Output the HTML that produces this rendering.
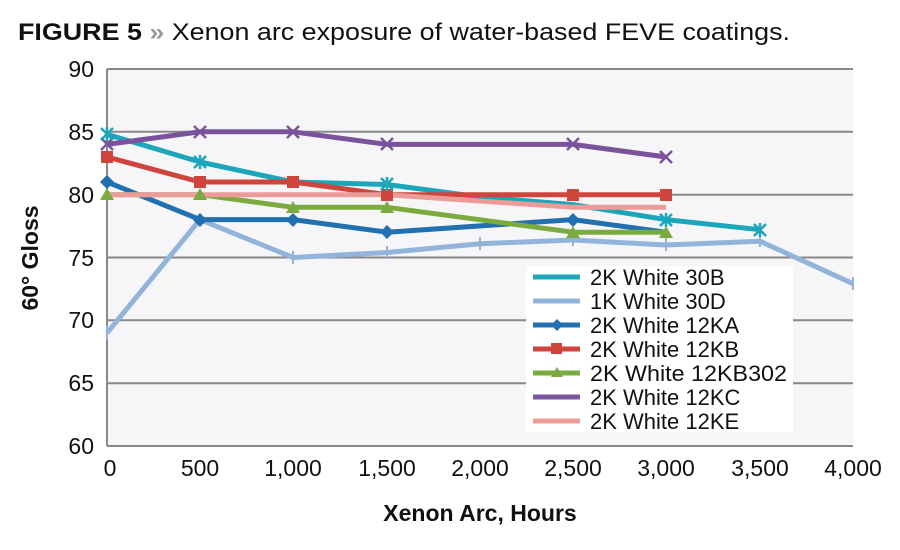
<!DOCTYPE html>
<html><head><meta charset="utf-8"><style>body{margin:0;background:#fff}svg{display:block}</style></head><body>
<svg width="900" height="550" xmlns="http://www.w3.org/2000/svg" font-family="Liberation Sans, sans-serif">
<text x="18" y="40" font-size="24" fill="#111" textLength="772" lengthAdjust="spacingAndGlyphs"><tspan font-weight="bold">FIGURE 5</tspan><tspan fill="#999" font-weight="bold"> »</tspan><tspan> Xenon arc exposure of water-based FEVE coatings.</tspan></text>
<rect x="107" y="69" width="746" height="377" fill="#f6f6f8"/>
<g stroke="#888" stroke-width="2">
<line x1="107" y1="69" x2="853" y2="69"/><line x1="107" y1="131.8" x2="853" y2="131.8"/><line x1="107" y1="194.7" x2="853" y2="194.7"/><line x1="107" y1="257.5" x2="853" y2="257.5"/><line x1="107" y1="320.3" x2="853" y2="320.3"/><line x1="107" y1="383.2" x2="853" y2="383.2"/><line x1="107" y1="446" x2="853" y2="446"/>
<line x1="107" y1="69" x2="107" y2="446"/>
</g>
<g font-size="23" fill="#111" text-anchor="end">
<text x="94" y="77">90</text><text x="94" y="140">85</text><text x="94" y="203">80</text><text x="94" y="266">75</text><text x="94" y="328">70</text><text x="94" y="391">65</text><text x="94" y="454">60</text></g>
<g font-size="23" fill="#111" text-anchor="middle">
<text x="110" y="476">0</text><text x="200" y="476">500</text><text x="293" y="476">1,000</text><text x="387" y="476">1,500</text><text x="480" y="476">2,000</text><text x="573" y="476">2,500</text><text x="666" y="476">3,000</text><text x="760" y="476">3,500</text><text x="853" y="476">4,000</text></g>
<text x="480" y="521" font-size="23" font-weight="bold" text-anchor="middle" fill="#111">Xenon Arc, Hours</text>
<text transform="translate(38,258) rotate(-90)" font-size="23" font-weight="bold" text-anchor="middle" fill="#111">60° Gloss</text>
<g fill="none" stroke-width="5" stroke-linejoin="round">
<polyline stroke="#93b4da" points="107,333 200,219.6 293,257.5 387,252.5 480,243.7 573,240 666,245 760,241.2 853,283.7"/>
<polyline stroke="#1ba7b9" points="107,134.3 200,162 293,182 387,184.5 480,197 573,204.6 666,219.6 760,229.7"/>
<polyline stroke="#2270b0" points="107,182 200,219.6 293,219.6 387,232.2 573,219.6 666,232.2"/>
<polyline stroke="#7bab3e" points="107,194.7 200,194.7 293,207.3 387,207.3 573,232.2 666,232.2"/>
<polyline stroke="#d0443e" points="107,157 200,182 293,182 387,194.7 573,194.7 666,194.7"/>
<polyline stroke="#7a539c" points="107,144.4 200,131.8 293,131.8 387,144.4 573,144.4 666,157"/>
<polyline stroke="#eb9c98" points="107,194.7 387,194.7 573,207.3 666,207.3"/>
</g>
<g stroke="#93b4da" stroke-width="2"><path d="M107 326v14M293 251v13M387 246v13M480 237v13M573 233v13M666 238v13M760 234v13M853 277v13"/></g>
<g fill="#d0443e"><rect x="101" y="151" width="12" height="12"/><rect x="194" y="176" width="12" height="12"/><rect x="287" y="176" width="12" height="12"/><rect x="381" y="189" width="12" height="12"/><rect x="567" y="189" width="12" height="12"/><rect x="660" y="189" width="12" height="12"/></g>
<g fill="#2270b0"><path d="M107 175l7 7-7 7-7-7z"/><path d="M200 213l7 7-7 7-7-7z"/><path d="M293 213l7 7-7 7-7-7z"/><path d="M387 225l7 7-7 7-7-7z"/><path d="M573 213l7 7-7 7-7-7z"/></g>
<g fill="#7bab3e"><path d="M107 188l7 12h-14z"/><path d="M200 188l7 12h-14z"/><path d="M293 201l7 12h-14z"/><path d="M387 201l7 12h-14z"/><path d="M573 226l7 12h-14z"/><path d="M666 226l7 12h-14z"/></g>
<g stroke="#7a539c" stroke-width="2.5"><path d="M101 138l12 12M113 138l-12 12M194 126l12 12M206 126l-12 12M287 126l12 12M299 126l-12 12M381 138l12 12M393 138l-12 12M567 138l12 12M579 138l-12 12M660 151l12 12M672 151l-12 12"/></g>
<g stroke="#1ba7b9" stroke-width="2.5"><path d="M101 128l12 12M113 128l-12 12M107 127v14M194 156l12 12M206 156l-12 12M200 155v14M381 178l12 12M393 178l-12 12M387 177v14M660 214l12 12M672 214l-12 12M666 213v14M754 224l12 12M766 224l-12 12M760 223v14"/></g>
<rect x="526" y="266" width="267" height="166" fill="#fff"/>
<g stroke-width="5"><line x1="533" y1="277" x2="580" y2="277" stroke="#1ba7b9"/><line x1="533" y1="301" x2="580" y2="301" stroke="#93b4da"/><line x1="533" y1="325" x2="580" y2="325" stroke="#2270b0"/><line x1="533" y1="349" x2="580" y2="349" stroke="#d0443e"/><line x1="533" y1="373" x2="580" y2="373" stroke="#7bab3e"/><line x1="533" y1="397" x2="580" y2="397" stroke="#7a539c"/><line x1="533" y1="421" x2="580" y2="421" stroke="#eb9c98"/></g>
<rect x="551" y="343" width="11" height="11" fill="#d0443e"/><path d="M557 319l6 6-6 6-6-6z" fill="#2270b0"/><path d="M557 367l6 10h-12z" fill="#7bab3e"/>
<g font-size="22" fill="#111"><text x="590" y="285">2K White 30B</text><text x="590" y="309">1K White 30D</text><text x="590" y="333">2K White 12KA</text><text x="590" y="357">2K White 12KB</text><text x="590" y="381" textLength="197" lengthAdjust="spacingAndGlyphs">2K White 12KB302</text><text x="590" y="405">2K White 12KC</text><text x="590" y="429">2K White 12KE</text></g>
</svg>
</body></html>
